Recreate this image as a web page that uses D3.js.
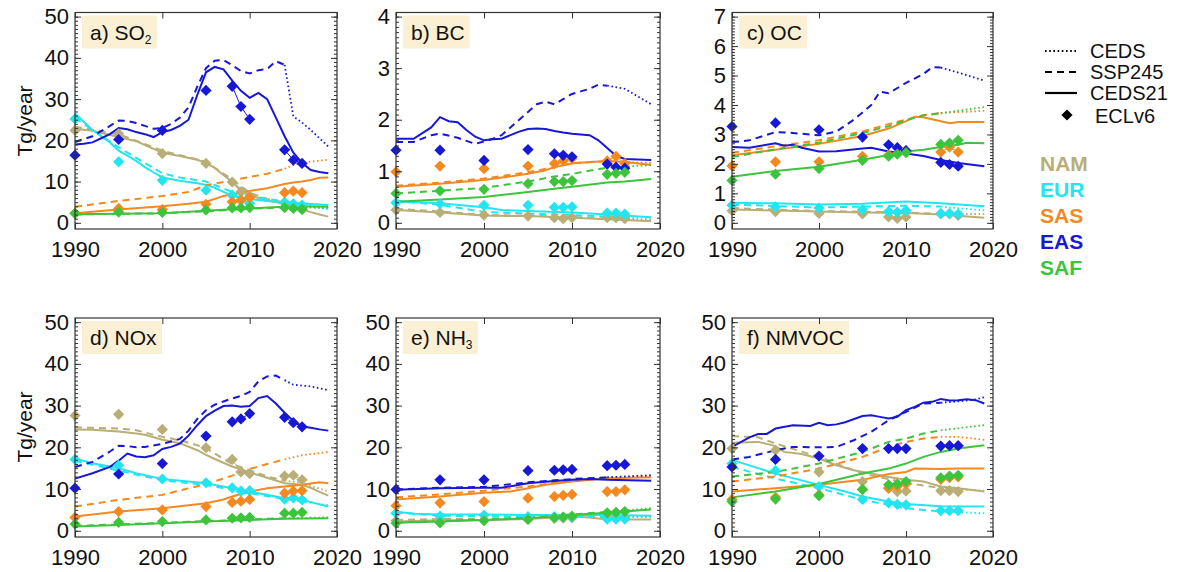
<!DOCTYPE html>
<html><head><meta charset="utf-8">
<script src="https://cdn.jsdelivr.net/npm/d3@7"></script>
<style>
body{margin:0;background:#fff}
svg{display:block}
text{font-family:"Liberation Sans",Arial,Helvetica,sans-serif;fill:#111}
</style>
</head><body><svg id="c" width="1179" height="572"></svg>
<script>
// ---------- DATA ----------
const regions = ["NAM","EUR","SAS","EAS","SAF"];
const regionColors = ["#b8ae76","#22e5ef","#f5891f","#1717d6","#3dc43d"];
const eclYears = [1990,1995,2000,2005,2008,2009,2010,2014,2015,2016];
const xTicks = [1990,2000,2010,2020];
const legendNames = ["CEDS","SSP245","CEDS21","ECLv6"];

// a) SO2
const so2Solid = {
  NAM:[[1990,22.8],[1992,22.3],[1995,20.8],[1997,19.8],[2000,17.0],[2002,16.2],[2004,15.3],[2005,14.5],[2006,13.3],[2007,11.6],[2008,9.9],[2009,8.0],[2010,6.8],[2011,6.0],[2012,5.4],[2013,5.0],[2014,4.7],[2015,3.9],[2016,3.3],[2017,2.6],[2018,2.0],[2019,1.5]],
  EUR:[[1990,26.5],[1991,24.5],[1992,22.5],[1993,21],[1994,19.5],[1995,17.5],[1996,16.3],[1997,15],[1998,13.5],[1999,12.2],[2000,11],[2002,10.2],[2004,9.6],[2005,9.2],[2006,8.5],[2007,7.5],[2008,6.6],[2010,5.8],[2012,5.3],[2014,5.0],[2016,4.7],[2019,4.3]],
  SAS:[[1990,2.3],[1995,3.2],[2000,4.0],[2003,4.6],[2005,5.1],[2006,5.8],[2007,6.5],[2008,6.9],[2009,7.3],[2010,7.7],[2012,8.4],[2014,9.4],[2015,9.8],[2016,10.0],[2017,10.4],[2018,10.9],[2019,11.0]],
  EAS:[[1990,19],[1991,19.2],[1992,19.5],[1993,20.5],[1994,21.5],[1995,23],[1996,22.7],[1997,22],[1998,21.5],[1999,20.8],[2000,22],[2001,22.5],[2002,23.5],[2003,25],[2004,31],[2005,36.5],[2006,37.8],[2007,37.2],[2008,34.5],[2009,32],[2010,30.3],[2011,31.5],[2012,30],[2013,25.5],[2014,21],[2015,17],[2016,14.5],[2017,12.8],[2018,12.3],[2019,12]],
  SAF:[[1990,2.1],[1995,2.2],[2000,2.3],[2005,2.9],[2008,3.3],[2010,3.5],[2014,3.9],[2016,4.0],[2019,3.9]]
};
const so2Dash = {
  NAM:[[1990,23.3],[1995,21.5],[2000,17.5],[2005,14.8],[2008,10.5],[2010,7.3],[2012,5.8],[2014,4.9]],
  EUR:[[1990,25.5],[1992,22.5],[1995,18.3],[1998,14.5],[2000,12],[2002,11],[2005,10],[2008,7.5],[2010,6.5],[2012,5.8],[2014,5.2]],
  SAS:[[1990,3.9],[1995,5.3],[2000,6.5],[2003,7.5],[2005,9.1],[2008,10.3],[2010,11.1],[2012,11.9],[2014,13.1]],
  EAS:[[1990,19.6],[1992,21],[1994,23.5],[1995,24.8],[1996,24.7],[1997,24.2],[1998,23.5],[1999,22.8],[2000,23],[2001,24],[2002,25.5],[2003,28],[2004,33],[2005,37.5],[2006,39.3],[2007,39.5],[2008,38.2],[2009,36.8],[2010,36.2],[2011,37],[2012,37.3],[2013,39.2],[2014,38.3]],
  SAF:[[1990,2.0],[1995,2.2],[2000,2.3],[2005,2.8],[2010,3.4],[2014,3.8]]
};
const so2Dot = {
  NAM:[[2014,4.9],[2016,4.3],[2019,3.6]],
  EUR:[[2014,5.2],[2016,4.2],[2019,3.3]],
  SAS:[[2014,13.1],[2015,14.0],[2016,14.6],[2019,15.3]],
  EAS:[[2014,38.3],[2015,25.8],[2016,24.3],[2017,22.5],[2018,20.5],[2019,18.5]],
  SAF:[[2014,3.8],[2019,3.6]]
};
const so2Ecl = {
  NAM:[22.4,21.6,16.8,14.4,9.9,7.5,6.5,4.8,3.9,3.2],
  EUR:[25.2,14.8,10.3,7.9,6.7,5.5,4.7,5.0,4.6,4.3],
  SAS:[2.3,3.5,3.2,4.5,5.1,5.5,6.1,7.3,7.7,7.3],
  EAS:[16.4,20.2,22.4,32.1,33.1,28.2,25.1,17.7,15.2,14.4],
  SAF:[2.3,2.6,2.5,3.1,3.6,3.6,3.7,3.7,3.5,3.3]
};

// b) BC
const bcSolid = {
  NAM:[[1990,0.25],[1995,0.2],[2000,0.14],[2005,0.13],[2010,0.1],[2014,0.07],[2019,0.03]],
  EUR:[[1990,0.42],[1995,0.38],[2000,0.3],[2002,0.25],[2005,0.23],[2010,0.2],[2014,0.16],[2019,0.11]],
  SAS:[[1990,0.7],[1995,0.76],[2000,0.83],[2005,0.95],[2007,1.02],[2008,1.08],[2010,1.15],[2012,1.18],[2014,1.2],[2016,1.18],[2019,1.12]],
  EAS:[[1990,1.63],[1992,1.63],[1994,1.85],[1995,2.05],[1996,1.97],[1997,1.95],[1998,1.8],[1999,1.67],[2000,1.6],[2001,1.62],[2002,1.63],[2003,1.7],[2004,1.77],[2005,1.82],[2006,1.83],[2007,1.82],[2008,1.78],[2009,1.75],[2010,1.73],[2012,1.7],[2013,1.6],[2014,1.45],[2015,1.3],[2016,1.24],[2019,1.22]],
  SAF:[[1990,0.41],[1995,0.45],[2000,0.5],[2005,0.6],[2008,0.66],[2010,0.7],[2014,0.78],[2016,0.8],[2019,0.85]]
};
const bcDash = {
  NAM:[[1990,0.27],[1995,0.22],[2000,0.15],[2005,0.14],[2010,0.11],[2014,0.08]],
  EUR:[[1990,0.42],[1995,0.35],[2000,0.21],[2005,0.18],[2010,0.15],[2014,0.12]],
  SAS:[[1990,0.72],[1995,0.78],[2000,0.86],[2005,0.98],[2008,1.08],[2010,1.16],[2014,1.19]],
  EAS:[[1990,1.57],[1992,1.57],[1994,1.7],[1995,1.73],[1997,1.65],[1999,1.53],[2000,1.58],[2001,1.63],[2002,1.7],[2003,1.85],[2004,2.0],[2005,2.15],[2006,2.3],[2007,2.35],[2008,2.3],[2009,2.4],[2010,2.5],[2011,2.55],[2012,2.6],[2013,2.68],[2014,2.66]],
  SAF:[[1990,0.57],[1995,0.62],[2000,0.68],[2005,0.8],[2008,0.9],[2010,0.95],[2014,1.07]]
};
const bcDot = {
  NAM:[[2014,0.08],[2019,0.05]],
  EUR:[[2014,0.12],[2019,0.07]],
  SAS:[[2014,1.19],[2019,1.16]],
  EAS:[[2014,2.66],[2016,2.6],[2019,2.3]],
  SAF:[[2014,1.07],[2019,1.12]]
};
const bcEcl = {
  NAM:[0.25,0.2,0.15,0.13,0.1,0.08,0.1,0.1,0.1,0.08],
  EUR:[0.39,0.37,0.34,0.34,0.3,0.3,0.31,0.19,0.19,0.17],
  SAS:[0.99,1.1,1.05,1.1,1.15,1.2,1.25,1.2,1.29,1.15],
  EAS:[1.41,1.41,1.21,1.42,1.34,1.31,1.28,1.14,1.08,1.06],
  SAF:[0.57,0.62,0.65,0.76,0.8,0.8,0.82,0.94,0.96,0.98]
};

// c) OC
const ocSolid = {
  NAM:[[1990,0.45],[1995,0.42],[2000,0.38],[2005,0.35],[2010,0.33],[2014,0.28],[2019,0.17]],
  EUR:[[1990,0.68],[1995,0.66],[2000,0.62],[2005,0.65],[2010,0.72],[2014,0.66],[2019,0.56]],
  SAS:[[1990,2.29],[1995,2.48],[2000,2.68],[2005,2.95],[2008,3.2],[2010,3.45],[2011,3.6],[2012,3.58],[2014,3.45],[2015,3.38],[2016,3.42],[2019,3.42]],
  EAS:[[1990,2.57],[1992,2.55],[1995,2.7],[1996,2.62],[1997,2.65],[1998,2.55],[2000,2.42],[2002,2.43],[2005,2.52],[2006,2.55],[2008,2.42],[2010,2.35],[2012,2.27],[2014,2.13],[2016,2.03],[2019,1.92]],
  SAF:[[1990,1.56],[1995,1.76],[2000,1.9],[2005,2.14],[2008,2.3],[2010,2.42],[2012,2.48],[2014,2.57],[2016,2.65],[2017,2.72],[2019,2.7]]
};
const ocDash = {
  NAM:[[1990,0.5],[1995,0.45],[2000,0.4],[2005,0.38],[2010,0.35],[2014,0.3]],
  EUR:[[1990,0.62],[1995,0.57],[2000,0.52],[2005,0.55],[2010,0.58],[2014,0.55]],
  SAS:[[1990,2.38],[1995,2.6],[2000,2.8],[2005,3.1],[2008,3.35],[2010,3.5],[2012,3.65],[2014,3.73]],
  EAS:[[1990,2.74],[1992,2.8],[1995,3.08],[1997,3.05],[2000,2.97],[2002,3.1],[2004,3.5],[2006,4.0],[2007,4.45],[2008,4.4],[2010,4.75],[2012,5.05],[2013,5.28],[2014,5.27]],
  SAF:[[1990,2.23],[1995,2.5],[2000,2.72],[2005,3.05],[2008,3.28],[2010,3.48],[2012,3.65],[2014,3.72]]
};
const ocDot = {
  NAM:[[2014,0.3],[2019,0.3]],
  EUR:[[2014,0.55],[2019,0.42]],
  SAS:[[2014,3.73],[2019,3.8]],
  EAS:[[2014,5.27],[2016,5.1],[2019,4.83]],
  SAF:[[2014,3.72],[2019,3.93]]
};
const ocEcl = {
  NAM:[0.41,0.38,0.32,0.3,0.2,0.15,0.2,0.3,0.3,0.25],
  EUR:[0.6,0.54,0.5,0.45,0.38,0.36,0.42,0.32,0.32,0.3],
  SAS:[1.93,2.07,2.07,2.26,2.3,2.35,2.45,2.4,2.57,2.4],
  EAS:[3.27,3.39,3.16,2.91,2.65,2.55,2.45,2.05,1.98,1.92],
  SAF:[1.44,1.65,1.84,2.12,2.26,2.33,2.38,2.66,2.71,2.8]
};

// d) NOx
const noxSolid = {
  NAM:[[1990,24.3],[1992,24.2],[1995,23.8],[1997,23.3],[1998,23],[2000,21.8],[2002,21],[2004,19.3],[2005,18.2],[2006,17.2],[2008,15.4],[2010,14],[2012,12.7],[2014,11.4],[2016,11],[2017,10.3],[2018,9.3],[2019,8.4]],
  EUR:[[1990,17.3],[1992,16.2],[1995,15],[1997,13.8],[2000,12.4],[2003,11.8],[2005,11.4],[2008,10.2],[2010,9.4],[2014,7.8],[2016,7.4],[2019,5.8]],
  SAS:[[1990,3.4],[1995,4.6],[2000,5.4],[2005,6.6],[2007,7.5],[2008,8.2],[2010,9.4],[2012,10.2],[2014,10.6],[2016,11],[2018,11.6],[2019,11.4]],
  EAS:[[1990,12.5],[1992,13.8],[1994,15.3],[1995,16.8],[1996,18.5],[1997,17.8],[1998,17.6],[1999,18.1],[2000,19.6],[2001,20.1],[2002,20.9],[2003,22.8],[2004,25.3],[2005,27.5],[2006,28.8],[2007,29.9],[2008,30],[2009,29.7],[2010,29.9],[2011,31.8],[2012,32.3],[2013,30.5],[2014,28.3],[2015,26.3],[2016,25],[2017,24.7],[2018,24.3],[2019,24]],
  SAF:[[1990,1],[1995,1.4],[2000,1.8],[2005,2.2],[2010,2.6],[2014,2.9],[2019,3]]
};
const noxDash = {
  NAM:[[1990,24.8],[1995,24.5],[1997,24.1],[2000,22.5],[2002,21.7],[2004,20.5],[2005,19.8],[2006,18.5],[2008,16],[2010,14.5],[2012,13],[2014,12]],
  EUR:[[1990,16.8],[1995,14.4],[2000,12.1],[2005,11],[2008,9.8],[2010,9],[2014,7.6]],
  SAS:[[1990,5.8],[1995,7.4],[2000,8.6],[2005,11.2],[2008,13.2],[2010,14.8],[2012,16],[2014,17.1]],
  EAS:[[1990,15.3],[1992,16.5],[1994,19],[1995,20.4],[1996,20.3],[1997,20],[1998,20.1],[2000,20.8],[2002,22],[2003,24],[2004,26.8],[2005,28.9],[2006,30.2],[2007,31],[2008,31.7],[2009,32.3],[2010,33.3],[2011,35.8],[2012,37],[2013,37.2],[2014,36.1]],
  SAF:[[1990,1.2],[1995,1.5],[2000,1.9],[2005,2.3],[2010,2.7],[2014,3]]
};
const noxDot = {
  NAM:[[2014,12],[2016,11.5],[2019,9.4]],
  EUR:[[2014,7.6],[2019,6.1]],
  SAS:[[2014,17.1],[2016,18.1],[2019,18.9]],
  EAS:[[2014,36.1],[2015,35],[2017,34.6],[2019,33.7]],
  SAF:[[2014,3],[2019,3.2]]
};
const noxEcl = {
  NAM:[27.6,27.9,24.3,19.9,17.1,14.1,13.7,13.1,13.3,12.2],
  EUR:[17.1,15.7,12.4,11.5,10.3,9.5,9.6,7.6,7.9,7.4],
  SAS:[3.2,4.6,5,5.8,6.8,7.1,7.5,9,9.5,9.6],
  EAS:[10.2,13.6,16.1,22.7,26.1,26.8,28.1,27.2,25.9,24.9],
  SAF:[1.6,2,2.2,2.6,3,3.1,3.2,4.2,4.2,4.4]
};

// e) NH3
const nh3Solid = {
  NAM:[[1990,2.2],[1995,2.5],[2000,2.6],[2005,2.8],[2010,3.4],[2012,3.2],[2014,2.7],[2019,2.7]],
  EUR:[[1990,4.6],[1992,4.1],[1995,3.9],[2000,3.9],[2005,3.8],[2010,3.8],[2014,3.8],[2019,3.6]],
  SAS:[[1990,7.5],[1995,8.2],[2000,9.1],[2003,9.4],[2005,10.2],[2007,11],[2010,11.8],[2014,12.6],[2019,12.8]],
  EAS:[[1990,9.8],[1995,10.2],[2000,10.3],[2002,10.3],[2005,11.4],[2008,11.9],[2010,12.2],[2012,12.4],[2014,12.2],[2019,12]],
  SAF:[[1990,1.9],[1995,2.2],[2000,2.6],[2005,3],[2010,3.8],[2014,4.3],[2019,5.1]]
};
const nh3Dash = {
  NAM:[[1990,2.6],[1995,2.8],[2000,2.9],[2005,3.1],[2010,3.5],[2014,3.2]],
  EUR:[[1990,4.4],[1995,3.6],[2000,3.5],[2005,3.5],[2010,3.5],[2014,3.4]],
  SAS:[[1990,8],[1995,8.7],[2000,9.6],[2005,10.6],[2010,12.1],[2014,12.8]],
  EAS:[[1990,9.9],[1995,10.3],[2000,10.5],[2005,11.6],[2010,12.4],[2014,12.8]],
  SAF:[[1990,2.0],[1995,2.3],[2000,2.7],[2005,3.1],[2010,3.9],[2014,4.5]]
};
const nh3Dot = {
  NAM:[[2014,3.2],[2019,3.3]],
  EUR:[[2014,3.4],[2019,3.5]],
  SAS:[[2014,12.8],[2019,13.2]],
  EAS:[[2014,12.8],[2019,13.3]],
  SAF:[[2014,4.5],[2019,5.4]]
};
const nh3Ecl = {
  NAM:[2.4,2.5,2.6,2.8,3.0,3.0,3.1,3.0,3.0,3.0],
  EUR:[4.2,3.5,3.7,3.4,3.4,3.3,3.3,2.8,2.8,2.8],
  SAS:[6,6.7,7,7.8,8.2,8.5,8.7,9.4,9.4,9.8],
  EAS:[9.9,12.2,12.2,14.4,14.5,14.6,14.7,15.6,15.7,15.9],
  SAF:[1.8,1.9,2.4,2.7,3.1,3.3,3.5,4.3,4.4,4.6]
};

// f) NMVOC
const vocSolid = {
  NAM:[[1990,21.1],[1993,21.3],[1995,20.3],[1996,18.9],[1998,18.4],[2000,17.3],[2002,15.7],[2004,14.5],[2006,13.7],[2008,12.9],[2010,12.2],[2012,11.8],[2014,10.6],[2016,10.2],[2019,9.4]],
  EUR:[[1990,17],[1993,15],[1995,13.7],[2000,11],[2003,9.4],[2005,8.2],[2008,7],[2010,6.4],[2014,5.9],[2019,5.8]],
  SAS:[[1990,9.4],[1995,10.2],[2000,11],[2005,12.2],[2008,13.6],[2010,14.1],[2011,14.9],[2014,14.8],[2016,14.9],[2019,14.9]],
  EAS:[[1990,20.1],[1992,22.4],[1993,23.2],[1994,23.2],[1995,24.5],[1997,25.3],[1999,25.1],[2000,25.9],[2001,25.3],[2002,25.5],[2003,26],[2005,27.5],[2006,27.7],[2007,27.3],[2008,26.9],[2009,27.3],[2010,28.9],[2011,29.7],[2012,30.7],[2013,30.9],[2014,31.6],[2015,31.2],[2016,31.3],[2017,31.5],[2018,31.3],[2019,30.5]],
  SAF:[[1990,8],[1995,9.4],[2000,11.2],[2005,13.7],[2008,14.9],[2010,16.1],[2012,17.7],[2014,18.9],[2016,19.7],[2019,20.5]]
};
const vocDash = {
  NAM:[[1990,22.7],[1993,22.4],[1995,20.9],[2000,17.7],[2005,13.7],[2010,11.5],[2014,10.2]],
  EUR:[[1990,15.3],[1995,12.5],[2000,10.2],[2005,7.4],[2010,5.4],[2014,4.6]],
  SAS:[[1990,11.8],[1995,13],[2000,14.9],[2005,17.7],[2008,20.1],[2010,21.3],[2012,22.1],[2014,22.5]],
  EAS:[[1990,17.1],[1992,17.7],[1995,19.3],[1997,20.1],[2000,20],[2002,20.1],[2004,21.7],[2006,23.7],[2008,26.5],[2010,28.5],[2012,30.5],[2014,30.7]],
  SAF:[[1990,13],[1995,14.1],[2000,16.1],[2005,18.9],[2008,21.3],[2010,22.1],[2012,23.3],[2014,24.1]]
};
const vocDot = {
  NAM:[[2014,10.2],[2019,9.6]],
  EUR:[[2014,4.6],[2019,4.2]],
  SAS:[[2014,22.5],[2016,22.5],[2019,21.8]],
  EAS:[[2014,30.7],[2016,31],[2018,31.5],[2019,32]],
  SAF:[[2014,24.1],[2019,25.3]]
};
const vocEcl = {
  NAM:[19.7,19.3,14.1,11.8,10.2,9.4,9.5,9.6,9.6,9.4],
  EUR:[16.1,14.4,10.6,7.5,6.7,6.3,6.2,4.8,4.8,4.8],
  SAS:[7.5,8,8.6,9.9,10.2,10.6,11.2,12.3,12.7,12.9],
  EAS:[15.3,17.1,17.9,19.7,19.7,19.7,19.7,20.3,20.4,20.4],
  SAF:[7,7.6,8.4,9.9,11,11.2,11.8,12.7,13.1,13.3]
};

// ---------- LAYOUT ----------
const panels = [
  {title:"a) SO", sub:"2", max:50, step:10, solid:so2Solid, dash:so2Dash, dot:so2Dot, ecl:so2Ecl, x0:75,  x1:337, y0:12.5, y1:229},
  {title:"b) BC", sub:"",  max:4,  step:1,  solid:bcSolid,  dash:bcDash,  dot:bcDot,  ecl:bcEcl,  x0:396, x1:660, y0:12.5, y1:229},
  {title:"c) OC", sub:"",  max:7,  step:1,  solid:ocSolid,  dash:ocDash,  dot:ocDot,  ecl:ocEcl,  x0:732, x1:993, y0:12.5, y1:229},
  {title:"d) NOx", sub:"", max:50, step:10, solid:noxSolid, dash:noxDash, dot:noxDot, ecl:noxEcl, x0:75,  x1:337, y0:318, y1:537},
  {title:"e) NH", sub:"3", max:50, step:10, solid:nh3Solid, dash:nh3Dash, dot:nh3Dot, ecl:nh3Ecl, x0:396, x1:660, y0:318, y1:537},
  {title:"f) NMVOC", sub:"", max:50, step:10, solid:vocSolid, dash:vocDash, dot:vocDot, ecl:vocEcl, x0:732, x1:993, y0:318, y1:537}
];

const svg = d3.select("#c");
const FRAME = "#333";
const diamond = "M0,-5.6L5.6,0L0,5.6L-5.6,0Z";

panels.forEach(p => {
  const x = d3.scaleLinear().domain([1990, 2020]).range([p.x0, p.x1]);
  const y = d3.scaleLinear().domain([-0.03 * p.max, 1.02 * p.max]).range([p.y1, p.y0]);
  const g = svg.append("g");
  const line = d3.line().x(d => x(d[0])).y(d => y(d[1]));

  // title box
  const box = g.append("rect").attr("fill", "#fbefd4");
  const t = g.append("text").attr("x", p.x0 + 15).attr("y", p.y0 + 27).attr("font-size", 21);
  t.append("tspan").text(p.title);
  if (p.sub) t.append("tspan").attr("font-size", 12).attr("dy", 4).text(p.sub);
  const bb = t.node().getBBox();
  box.attr("x", p.x0 + 7).attr("y", p.y0 + 3).attr("width", bb.width + 13).attr("height", 33);

  // lines
  regions.forEach((r, i) => {
    const c = regionColors[i];
    g.append("path").attr("d", line(p.dash[r])).attr("fill", "none").attr("stroke", c)
      .attr("stroke-width", 2).attr("stroke-dasharray", "7,5");
    g.append("path").attr("d", line(p.dot[r])).attr("fill", "none").attr("stroke", c)
      .attr("stroke-width", 1.8).attr("stroke-dasharray", "1.6,2.6");
    g.append("path").attr("d", line(p.solid[r])).attr("fill", "none").attr("stroke", c)
      .attr("stroke-width", 2);
  });
  // ECLv6 diamonds
  regions.forEach((r, i) => {
    const c = regionColors[i];
    const pts = eclYears.map((yr, k) => [yr, p.ecl[r][k]]);
    for (let k = 1; k < pts.length; k++) {
      if (pts[k][0] - pts[k - 1][0] === 1) {
        g.append("path").attr("d", line([pts[k - 1], pts[k]])).attr("stroke", c)
          .attr("stroke-width", 1).attr("fill", "none");
      }
    }
    g.selectAll(null).data(pts).enter().append("path")
      .attr("d", diamond).attr("fill", c)
      .attr("transform", d => `translate(${x(d[0])},${y(d[1])})`);
  });

  // frame
  g.append("rect").attr("x", p.x0).attr("y", p.y0).attr("width", p.x1 - p.x0).attr("height", p.y1 - p.y0)
    .attr("fill", "none").attr("stroke", FRAME).attr("stroke-width", 1.2);

  const yMajor = d3.range(0, p.max + p.step / 2, p.step);
  const yMinor = d3.range(0, p.max + p.step / 20, p.step / 10).filter(v => v <= p.max);

  const styleAxis = sel => {
    sel.select(".domain").remove();
    sel.selectAll("line").attr("stroke", FRAME);
    sel.selectAll("text").attr("font-size", 22).attr("fill", "#111")
      .attr("font-family", '"Liberation Sans",Arial,Helvetica,sans-serif');
  };
  g.append("g").attr("transform", `translate(0,${p.y1})`)
    .call(d3.axisBottom(x).tickValues(xTicks).tickFormat(d3.format("d")).tickSize(-6).tickPadding(12)).call(styleAxis);
  g.append("g").attr("transform", `translate(0,${p.y0})`)
    .call(d3.axisTop(x).tickValues(xTicks).tickFormat("").tickSize(-6)).call(styleAxis);
  g.append("g").attr("transform", `translate(${p.x0},0)`)
    .call(d3.axisLeft(y).tickValues(yMajor).tickFormat(d3.format("d")).tickSize(-6).tickPadding(6)).call(styleAxis);
  g.append("g").attr("transform", `translate(${p.x0},0)`)
    .call(d3.axisLeft(y).tickValues(yMinor).tickFormat("").tickSize(-3)).call(styleAxis);
  g.append("g").attr("transform", `translate(${p.x1},0)`)
    .call(d3.axisRight(y).tickValues(yMajor).tickFormat("").tickSize(-6)).call(styleAxis);
  g.append("g").attr("transform", `translate(${p.x1},0)`)
    .call(d3.axisRight(y).tickValues(yMinor).tickFormat("").tickSize(-3)).call(styleAxis);
});

// y-axis titles
[121, 427].forEach(cy => {
  svg.append("text").attr("transform", `translate(24,${cy}) rotate(-90)`)
    .attr("text-anchor", "middle").attr("dy", "0.36em").attr("font-size", 21).text("Tg/year");
});

// line style legend
const lg = svg.append("g");
const styles = [
  {dash:"1.6,2.6", w:1.8},
  {dash:"7,5", w:2},
  {dash:null, w:2.2}
];
const legendY = [51, 72, 93, 116];
styles.forEach((s, i) => {
  lg.append("line").attr("x1", 1045).attr("x2", 1077).attr("y1", legendY[i]).attr("y2", legendY[i])
    .attr("stroke", "#000").attr("stroke-width", s.w).attr("stroke-dasharray", s.dash);
});
lg.append("path").attr("d", diamond).attr("fill", "#000").attr("transform", `translate(1067,${legendY[3] - 1})`);
legendNames.forEach((n, i) => {
  lg.append("text").attr("x", i === 3 ? 1095 : 1090).attr("y", legendY[i]).attr("dy", "0.36em")
    .attr("font-size", 20).text(n);
});
// region legend
regions.forEach((r, i) => {
  svg.append("text").attr("x", 1040).attr("y", 163 + 26 * i).attr("dy", "0.36em")
    .attr("font-size", 21).attr("font-weight", "bold").style("fill", regionColors[i]).text(r);
});
</script>
</body></html>
